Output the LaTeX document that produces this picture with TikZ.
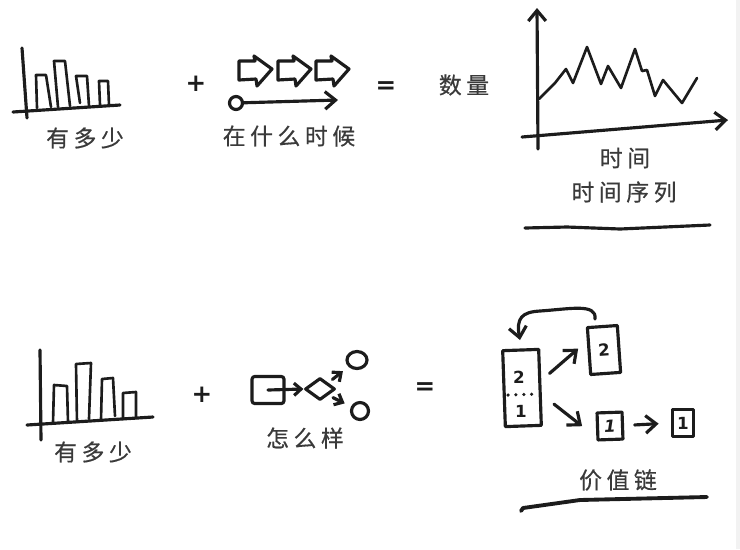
\documentclass[tikz,border=0pt]{standalone}
\usepackage{fontspec}
\newfontfamily\cjk[LetterSpace=20,FakeBold=0.5]{Noto Sans CJK SC}
\newfontfamily\signfont{DejaVu Sans}
\usetikzlibrary{arrows.meta,shapes.geometric}
\definecolor{ink}{HTML}{1C1C1C}
\definecolor{inktext}{HTML}{3A3A3A}
\tikzset{
    sketch/.style={draw=ink, line width=1.8pt, line cap=round, line join=round},
    thin sketch/.style={sketch, line width=1.5pt},
    label text/.style={font=\cjk\fontsize{13}{15}\selectfont, text=inktext, inner sep=0pt},
    sign/.style={font=\signfont\bfseries\fontsize{14}{16}\selectfont, text=ink, inner sep=0pt},
    digit/.style={font=\signfont\bfseries\fontsize{9.5}{11}\selectfont, text=ink, inner sep=0pt},
    digit box/.style={sketch, digit, rectangle},
    short arrow/.style={sketch, -{Straight Barb[length=4pt,width=7pt]}},
    >={Straight Barb[length=6pt,width=10pt]},
    blockarrow/.pic={
        code={
            \draw[sketch] (0,-9) -- (16,-9) -- (15,-14) -- (33,-1) -- (18,16) -- (17,9) -- (0,10) -- cycle;
    }}
}

\begin{document}
\begin{tikzpicture}[x=0.02cm,y=-0.02cm]
        \useasboundingbox (0,0) rectangle (740,549);
        \fill[black!5] (736,0) rectangle (740,549);

        % top bars
        \draw[sketch] (22,48) -- (27,118);
        \draw[sketch] (13,112) -- (120,105);
        \draw[thin sketch] (37,108) -- (36,75) -- (46,75) -- (51,107);
        \draw[thin sketch] (58,107) -- (54,61) -- (65,61) -- (70,106);
        \draw[thin sketch] (80,103) -- (76,76) -- (87,76) -- (89,106);
        \draw[thin sketch] (100,105) -- (99,81) -- (108,81) -- (109,105);
        \node[label text] (howmuchtop) at (85,138) {有多少};

        \node[sign] (plustop) at (196,84) {+};

        % when
        \path (239,70) pic {blockarrow};
        \path (278,70) pic {blockarrow};
        \path (316,70) pic {blockarrow};
        \node[sketch, circle, minimum size=0.26cm, inner sep=0pt] (start) at (236,103) {};
        \coordinate (timeend) at (338,100);
        \draw[sketch,->] (start) -- (timeend);
        \node[label text] (when) at (289,136) {在什么时候};

        \node[sign] (equalstop) at (386,88) {=};
        \node[label text] (quantity) at (464,85) {数量};

        % time series
        \coordinate (ybottom) at (538,149);
        \coordinate (ytop) at (537,8);
        \coordinate (xleft) at (522,137);
        \coordinate (xright) at (728,120);
        \draw[sketch,->] (ybottom) -- (ytop);
        \draw[sketch,->] (xleft) -- (xright);
        \draw[thin sketch] (539,99) -- (555,83) -- (566,69) -- (573,83) -- (587,47) -- (601,84) -- (608,66) -- (621,88) -- (635,49) -- (642,71) -- (647,70) -- (655,96) -- (663,80) -- (682,103) -- (697,78);
        \node[label text] (time) at (625,158) {时间};
        \node[label text] (series) at (624,192) {时间序列};
        \draw[sketch] (525,228) -- (567,227) -- (620,229) -- (710,225);

        % bottom bars
        \draw[sketch] (40,350) -- (41,440);
        \draw[sketch] (27,425) -- (153,417);
        \draw[thin sketch] (53,423) -- (54,385) -- (67,386) -- (68,422);
        \draw[thin sketch] (77,422) -- (76,364) -- (91,363) -- (89,419);
        \draw[thin sketch] (101,420) -- (102,379) -- (113,378) -- (115,416);
        \draw[thin sketch] (123,419) -- (123,393) -- (136,392) -- (136,418);
        \node[label text] (howmuchlow) at (93,452) {有多少};

        \node[sign] (pluslow) at (202,395) {+};

        % how
        \node[sketch, rectangle, rounded corners=1.5pt, minimum width=0.64cm, minimum height=0.54cm] (square) at (268,390) {};
        \node[sketch, diamond, minimum width=0.6cm, minimum height=0.44cm, inner sep=0pt] (choice) at (320,389) {};
        \node[sketch, ellipse, minimum width=0.4cm, minimum height=0.34cm, inner sep=0pt] (upper) at (357,360) {};
        \node[sketch, circle, minimum size=0.34cm, inner sep=0pt] (lower) at (360,411) {};
        \draw[short arrow] (square.center) -- (choice.west);
        \draw[short arrow,shorten <=3pt,shorten >=4pt] (choice.north east) -- (upper);
        \draw[short arrow,shorten <=3pt,shorten >=4pt] (choice.south east) -- (lower);
        \node[label text] (how) at (305,438) {怎么样};

        \node[sign] (equalslow) at (425,389) {=};

        % value chain
        \node[sketch, rectangle, minimum width=0.72cm, minimum height=1.52cm, rotate=2] (whole) at (522,388) {};
        \node[digit] (wholetwo) at (519,377) {2};
        \node[digit] (wholeone) at (521,411) {1};
        \draw[sketch, line width=2pt, dash pattern=on 0pt off 4.5pt] (508,395) -- (538,394);
        \node[digit box, minimum width=0.6cm, minimum height=0.94cm, rotate=4] (two) at (604,350) {2};
        \node[digit box, minimum width=0.5cm, minimum height=0.54cm, rotate=2] (onea) at (610,426) {\itshape 1};
        \node[digit box, minimum width=0.42cm, minimum height=0.54cm] (oneb) at (683,423) {1};
        \coordinate (loopa) at (595,319);
        \coordinate (loopb) at (520,340);
        \draw[sketch,->] (loopa) .. controls (597,303) and (570,309) .. (540,311) .. controls (522,312) and (516,318) .. (loopb);
        \draw[sketch,->,shorten <=6pt,shorten >=7pt] ([yshift=4pt]whole.east) -- ([yshift=6pt]two.west);
        \draw[sketch,->,shorten <=9pt,shorten >=10pt] ([yshift=-4pt]whole.east) -- ([yshift=-6pt]onea.west);
        \draw[sketch,->,shorten <=6pt,shorten >=7pt] (onea.east) -- (oneb.west);
        \node[label text] (chain) at (618,480) {价值链};
        \draw[sketch, line width=2.2pt] (521,511) -- (523,508) -- (580,500) -- (707,497);
\end{tikzpicture}
\end{document}
